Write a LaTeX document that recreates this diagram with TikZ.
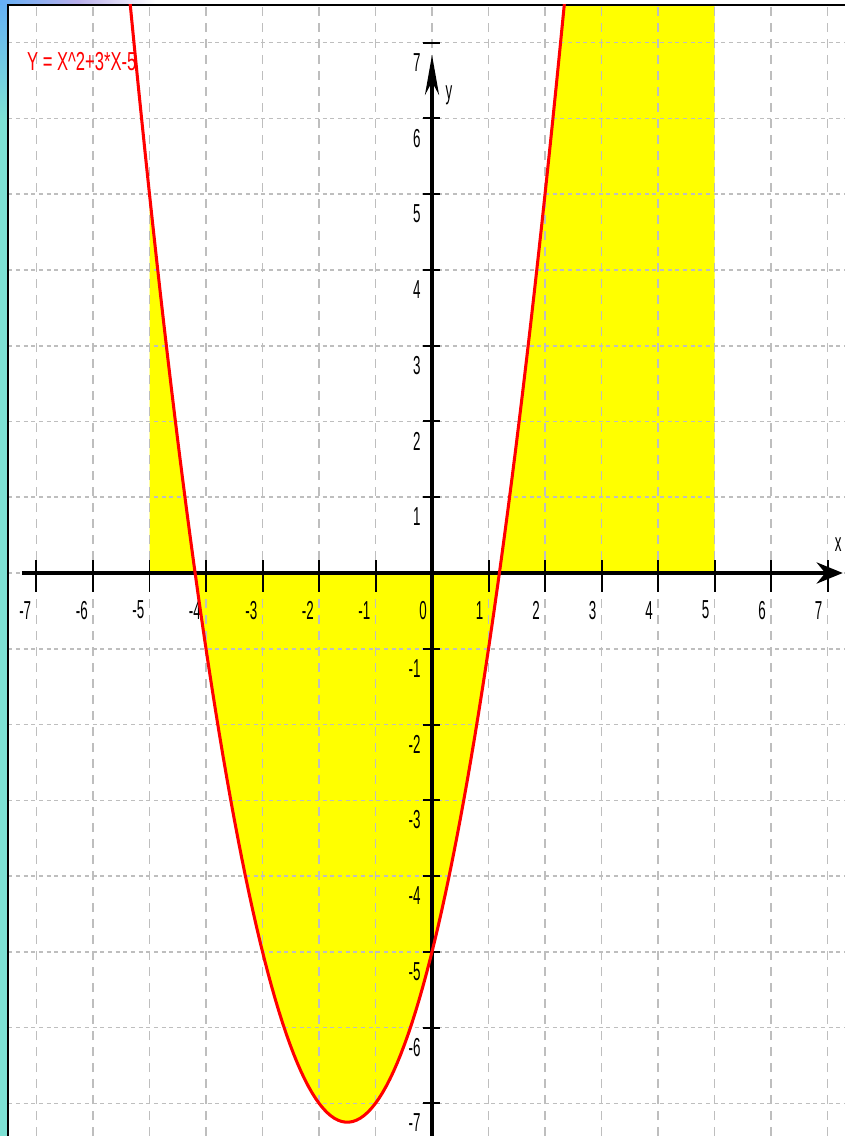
\documentclass[tikz,border=0pt]{standalone}
\usepackage{fontspec}
\setmainfont{Liberation Sans}
\usepackage{graphicx}
\usetikzlibrary{arrows.meta}
\definecolor{gridgray}{RGB}{190,190,190}
\definecolor{fillyellow}{RGB}{255,255,0}
\definecolor{curvered}{RGB}{255,0,0}
\definecolor{stripcyan}{RGB}{125,225,212}
\definecolor{stripblue}{RGB}{100,175,245}
\definecolor{striplilac}{RGB}{185,175,235}
\newcommand{\tall}[1]{\scalebox{0.95}[1.85]{#1}}
\tikzset{
  vgrid/.style={gridgray, line width=1.3pt, dash pattern=on 0.27cm off 0.21cm},
  hgrid/.style={gridgray, line width=1.3pt, dash pattern=on 0.12cm off 0.11cm},
  axisline/.style={line width=3.6pt, color=black},
  tickmark/.style={line width=1.7pt, color=black},
  plotframe/.style={line width=1.8pt, color=black},
  curve/.style={curvered, line width=2.6pt, line join=round},
  ticklabel/.style={font=\fontsize{12}{12}\selectfont, inner sep=0pt}
}
\begin{document}
\begin{tikzpicture}[x=1.695cm, y=2.2725cm]
  \useasboundingbox (-7.646,-7.432) rectangle (7.310,7.564);
  % slide border
  \fill[stripcyan] (-7.646,-7.432) rectangle (-7.5,7.564);
  \shade[top color=stripblue, bottom color=stripcyan] (-7.646,6.0) rectangle (-7.5,7.564);
  \shade[left color=stripblue, right color=white, middle color=striplilac] (-7.646,7.5) rectangle (-4.9,7.564);
  % shaded area
  \begin{scope}
    \clip (-7.5,-7.432) rectangle (7.310,7.5);
    \fill[fillyellow] (-5,0) -- plot[domain=-5:5, samples=120] (\x,{\x*\x+3*\x-5}) -- (5,0) -- cycle;
  \end{scope}
  % grid
  \foreach \i in {-7,...,7} {
    \draw[vgrid] (\i,-7.432) -- (\i,7.5);
    \draw[hgrid] (-7.5,\i) -- (7.310,\i);
  }
  \draw[plotframe] (-7.5,-7.432) -- (-7.5,7.5) -- (7.310,7.5);
  % axes
  \coordinate (xstart) at (-7.26,0);
  \coordinate (xend) at (7.27,0);
  \coordinate (ystart) at (0,-7.432);
  \coordinate (yend) at (0,6.84);
  \draw[axisline, -{Stealth[length=0.78cm, width=0.63cm]}] (xstart) -- (xend);
  \draw[axisline, -{Stealth[length=1.2cm, width=0.42cm]}] (ystart) -- (yend);
  \foreach \i in {-7,...,-1,1,2,...,7} {
    \draw[tickmark] (\i,0.17) -- (\i,-0.25);
    \draw[tickmark] (-0.16,\i) -- (0.15,\i);
    \node[ticklabel, anchor=east] (yl\i) at (-0.2,\i-0.26) {\tall{\i}};
  }
  \foreach \i in {-7,...,7}
    \node[ticklabel, anchor=east] (xl\i) at (\i-0.09,-0.49) {\tall{\i}};
  \node[ticklabel] (xname) at (7.19,0.37) {\tall{x}};
  \node[ticklabel] (yname) at (0.30,6.31) {\tall{y}};
  % graph
  \begin{scope}
    \clip (-7.5,-7.432) rectangle (7.310,7.5);
    \draw[curve] plot[domain=-5.4:2.4, samples=120] (\x,{\x*\x+3*\x-5});
  \end{scope}
  \node[ticklabel, text=curvered, anchor=west] (flabel) at (-7.17,6.75)
    {\scalebox{1.18}[1.85]{Y = X\textasciicircum 2+3*X-5}};
\end{tikzpicture}
\end{document}
